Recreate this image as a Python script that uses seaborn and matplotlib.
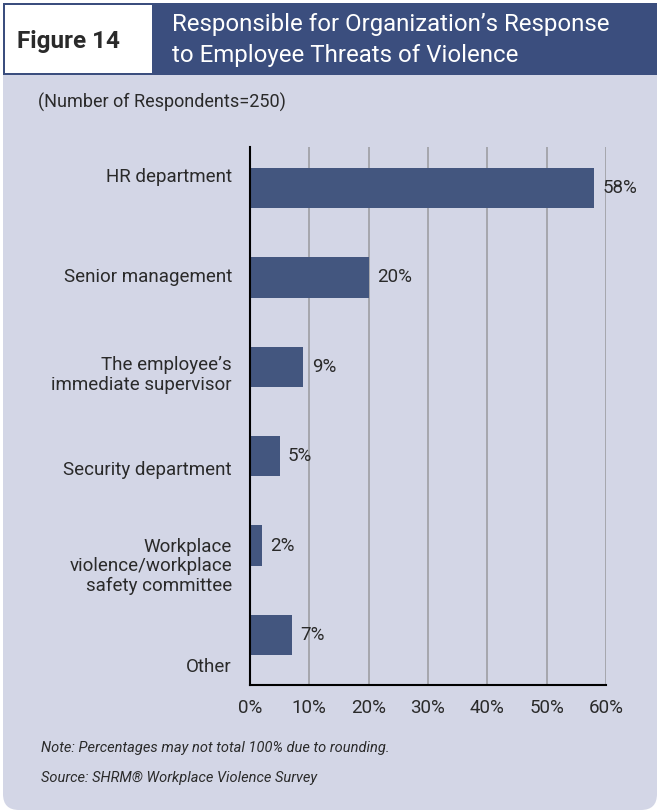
import matplotlib
matplotlib.use("Agg")
import matplotlib.pyplot as plt
import seaborn as sns
import pandas as pd
from matplotlib.patches import FancyBboxPatch, Rectangle
from matplotlib.transforms import blended_transform_factory

# Survey data
categories = [
    "HR department",
    "Senior management",
    "The employee\u2019s\nimmediate supervisor",
    "Security department",
    "Workplace\nviolence/workplace\nsafety committee",
    "Other",
]
percentages = [58, 20, 9, 5, 2, 7]
x_ticks = [0, 10, 20, 30, 40, 50, 60]
x_tick_labels = ["0%", "10%", "20%", "30%", "40%", "50%", "60%"]

# vertical nudge of each category label, in category units
label_nudge = [-0.12, 0.0, 0.09, 0.15, 0.23, 0.36]

LAV = "#d3d6e6"
NAVY = "#3b4e7e"
BAR = "#43567f"
TEXT = "#2a2a2a"
GRID = "#a2a3a8"

sns.set_theme(style="white")
plt.rcParams["font.family"] = ["Roboto", "DejaVu Sans"]

W, H = 658, 811
fig = plt.figure(figsize=(W / 100, H / 100), dpi=100)
fig.patch.set_facecolor("white")

# background panel in pixel coordinates
bg = fig.add_axes([0, 0, 1, 1], zorder=0)
bg.set_xlim(0, W)
bg.set_ylim(H, 0)
bg.axis("off")
bg.add_patch(FancyBboxPatch((3, 3), 654, 807,
                            boxstyle="round,pad=0,rounding_size=16",
                            fc=LAV, ec="none"))
bg.add_patch(Rectangle((3, 3), 654, 72, fc=NAVY, ec="none"))
bg.add_patch(Rectangle((5, 5), 147, 68, fc="white", ec="none"))

bg.text(17, 48, "Figure 14", fontsize=17.5, fontweight="bold", color=TEXT,
        va="baseline", ha="left")
bg.text(172, 31, "Responsible for Organization\u2019s Response", fontsize=17.3,
        color="white", va="baseline", ha="left")
bg.text(172, 62, "to Employee Threats of Violence", fontsize=17.3,
        color="white", va="baseline", ha="left")
bg.text(38, 102, "(Number of Respondents=250)", fontsize=13, color=TEXT,
        va="center", ha="left")
bg.text(41, 748, "Note: Percentages may not total 100% due to rounding.",
        fontsize=10.5, style="italic", color=TEXT, va="center", ha="left")
bg.text(41, 778, "Source: SHRM\u00ae Workplace Violence Survey",
        fontsize=10.5, style="italic", color=TEXT, va="center", ha="left")

# bar chart
ax = fig.add_axes([250 / W, 1 - 685 / H, 356 / W, 538 / H], zorder=1)
ax.set_facecolor("none")
df = pd.DataFrame({"category": categories, "pct": percentages})
sns.barplot(data=df, x="pct", y="category", orient="h", color=BAR,
            saturation=1, width=0.45, linewidth=0, edgecolor="none", ax=ax)
ax.set_xlim(0, 60)
ax.set_ylim(5.56, -0.46)
ax.set_xticks(x_ticks)
ax.set_xticklabels(x_tick_labels)
ax.set_yticks([])
ax.set_xlabel("")
ax.set_ylabel("")
ax.xaxis.grid(True, color=GRID, lw=1.3)
ax.yaxis.grid(False)
ax.set_axisbelow(True)
for side in ("top", "right"):
    ax.spines[side].set_visible(False)
for side in ("left", "bottom"):
    ax.spines[side].set_visible(True)
    ax.spines[side].set_color("black")
    ax.spines[side].set_linewidth(1.5)
ax.tick_params(axis="x", length=0, pad=10, labelsize=13.5, labelcolor=TEXT)
for lbl in ax.get_xticklabels():
    lbl.set_x(lbl.get_position()[0])

ax.bar_label(ax.containers[0], labels=[f"{v}%" for v in percentages],
             padding=6, fontsize=13.5, color=TEXT)

trans = blended_transform_factory(ax.transAxes, ax.transData)
for i, (label, nudge) in enumerate(zip(categories, label_nudge)):
    ax.text(-18 / 356, i + nudge, label, transform=trans, ha="right",
            va="center", multialignment="right", fontsize=13.5,
            color=TEXT, linespacing=1.1)

fig.savefig("out.png", dpi=100, facecolor="white")
